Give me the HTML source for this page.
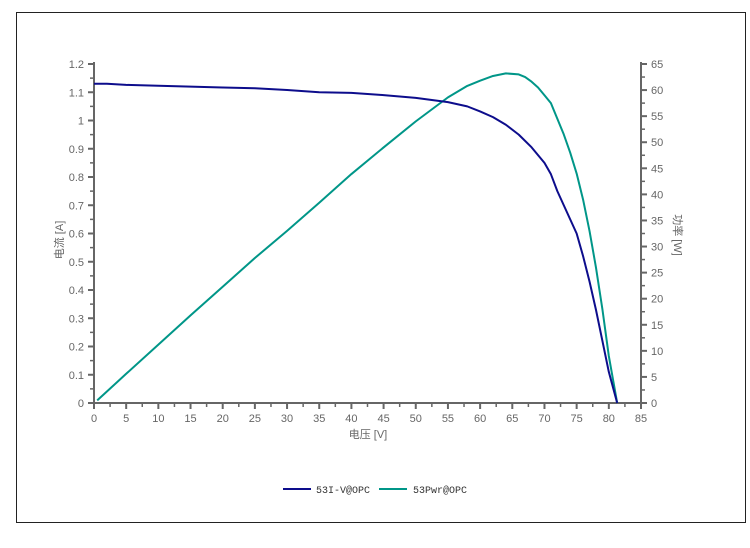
<!DOCTYPE html>
<html><head><meta charset="utf-8"><style>
body{margin:0;background:#fff;width:750px;height:543px;overflow:hidden}
svg text{font-family:"Liberation Sans","Noto Sans CJK SC",sans-serif;fill:#666;font-size:11px}
</style></head><body>
<svg id="c" width="750" height="543">
<rect x="16.5" y="12.5" width="729" height="510" fill="#fff" stroke="#222"/>
<g id="g"></g>
</svg>
<script>
const voltV=[0,2,5,10,15,20,25,30,35,40,45,50,55,58,60,62,64,66,68,70,71,72,73,74,75,76,77,78,79,80,81.3];
const currentA=[1.13,1.13,1.126,1.123,1.12,1.117,1.114,1.108,1.1,1.098,1.09,1.08,1.065,1.05,1.032,1.012,0.985,0.95,0.905,0.85,0.81,0.75,0.7,0.65,0.6,0.52,0.43,0.33,0.22,0.11,0];
const voltP=[0.5,5,10,15,20,25,30,35,40,45,50,55,58,60,62,64,66,67,68,69,70,71,72,73,74,75,76,77,78,79,80,81.3];
const powerW=[0.5,5.6,11.2,16.8,22.3,27.8,33,38.4,43.9,49,54,58.6,60.8,61.8,62.7,63.2,63,62.5,61.6,60.5,59,57.5,54.5,51.5,48,44,39,33,26,18,9,0];
const xTicks=[0,5,10,15,20,25,30,35,40,45,50,55,60,65,70,75,80,85];
const yLTicks=[0,0.1,0.2,0.3,0.4,0.5,0.6,0.7,0.8,0.9,1,1.1,1.2];
const yRTicks=[0,5,10,15,20,25,30,35,40,45,50,55,60,65];
const X0=94,X1=641,Y0=403,Y1=64;
const sx=v=>X0+v*(X1-X0)/85, syL=v=>Y0-v*(Y0-Y1)/1.2, syR=v=>Y0-v*(Y0-Y1)/65;
const g=document.getElementById('g'),NS='http://www.w3.org/2000/svg';
function mk(t,a,txt){const e=document.createElementNS(NS,t);for(const k in a)e.setAttribute(k,a[k]);if(txt!==undefined)e.textContent=txt;g.appendChild(e);return e;}
let e;
e=mk('path',{d:`M${X0},${Y1-2}V${Y0}H${X1}V${Y1-2}`,fill:'none',stroke:'#666','stroke-width':2});


xTicks.forEach((v,i)=>{
 e=mk('line',{x1:sx(v),x2:sx(v),y1:Y0,y2:Y0+6,stroke:'#666','stroke-width':2});
 
 
 if(i<xTicks.length-1){e=mk('line',{x1:sx(v+2.5),x2:sx(v+2.5),y1:Y0,y2:Y0+4,stroke:'#666','stroke-width':1.5});
 
 }
 e=mk('text',{x:sx(v),y:Y0+19,'text-anchor':'middle'},v);
 
 
});
yLTicks.forEach((v,i)=>{
 e=mk('line',{x1:X0-6,x2:X0,y1:syL(v),y2:syL(v),stroke:'#666','stroke-width':2});
 
 
 if(i<yLTicks.length-1){e=mk('line',{x1:X0-4,x2:X0,y1:syL(v+0.05),y2:syL(v+0.05),stroke:'#666','stroke-width':1.5});
 
 }
 e=mk('text',{x:X0-10,y:syL(v)+4,'text-anchor':'end'},v);
 
 
});
yRTicks.forEach((v,i)=>{
 e=mk('line',{x1:X1,x2:X1+6,y1:syR(v),y2:syR(v),stroke:'#666','stroke-width':2});
 
 
 if(i<yRTicks.length-1){e=mk('line',{x1:X1,x2:X1+4,y1:syR(v+2.5),y2:syR(v+2.5),stroke:'#666','stroke-width':1.5});
 
 }
 e=mk('text',{x:X1+10,y:syR(v)+4,'text-anchor':'start'},v);
 
 
});
e=mk('text',{x:368,y:438,'text-anchor':'middle'},'电压 [V]');


e=mk('text',{x:0,y:0,'text-anchor':'middle',transform:'translate(63,240) rotate(-90)'},'电流 [A]');


e=mk('text',{x:0,y:0,'text-anchor':'middle',transform:'translate(674,235) rotate(90)'},'功率 [W]');


e=mk('polyline',{points:voltP.map((v,i)=>sx(v)+','+syR(powerW[i])).join(' '),fill:'none',stroke:'#009688','stroke-width':2,'stroke-linejoin':'round'});


e=mk('polyline',{points:voltV.map((v,i)=>sx(v)+','+syL(currentA[i])).join(' '),fill:'none',stroke:'#0d0d8c','stroke-width':2,'stroke-linejoin':'round'});


e=mk('line',{x1:283,x2:311,y1:489,y2:489,stroke:'#0d0d8c','stroke-width':2});


e=mk('text',{x:316,y:493,style:'font-family:"Liberation Mono",monospace;font-size:10px;fill:#333'},'53I-V@OPC');


e=mk('line',{x1:379,x2:407,y1:489,y2:489,stroke:'#009688','stroke-width':2});


e=mk('text',{x:413,y:493,style:'font-family:"Liberation Mono",monospace;font-size:10px;fill:#333'},'53Pwr@OPC');


</script>
</body></html>
